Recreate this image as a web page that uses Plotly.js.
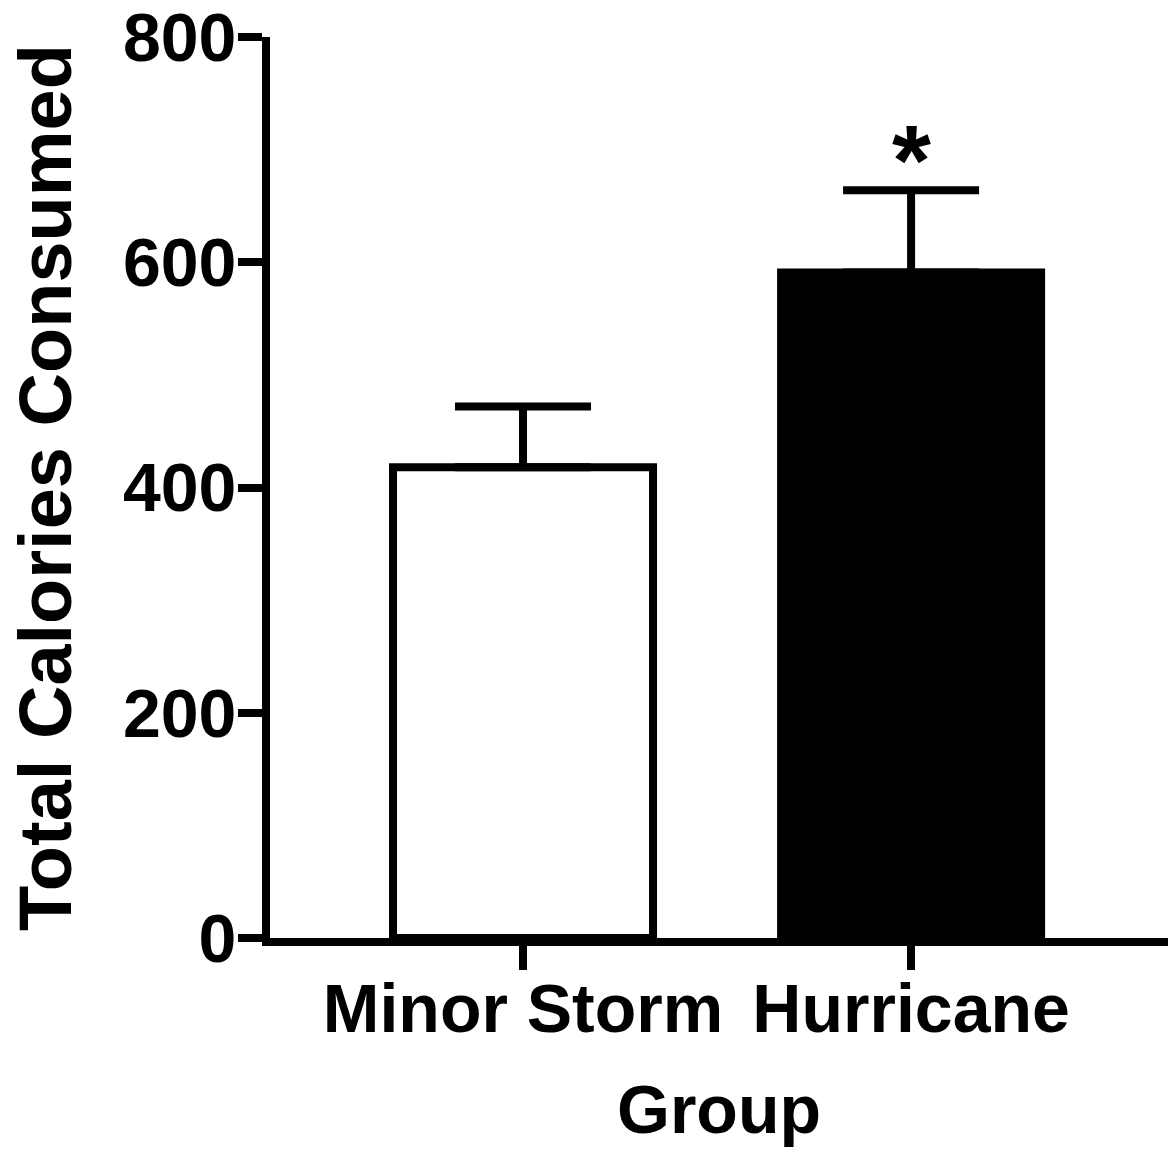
<!DOCTYPE html>
<html>
<head>
<meta charset="utf-8">
<script src="https://cdn.plot.ly/plotly-3.0.1.min.js"></script>
<style>html,body{margin:0;padding:0;background:#fff;}#chart{width:1173px;height:1161px;}</style>
</head>
<body>
<div id="chart"></div>
<script>
const categories = ["Minor Storm", "Hurricane"];
const meanCalories = [418, 591];
const semCalories = [54, 73];
const barFills = ["#ffffff", "#000000"];
const yTickValues = [0, 200, 400, 600, 800];
const yTickLabels = ["0", "200", "400", "600", "800"];
const significance = ["", "*"];

const FONT = "Liberation Sans, Arial, Helvetica, sans-serif";

const trace = {
  type: "bar",
  x: categories,
  y: meanCalories,
  width: 0.67,
  marker: { color: barFills, line: { color: "#000", width: 8 } },
  error_y: {
    type: "data",
    symmetric: false,
    array: semCalories,
    arrayminus: semCalories.map(() => 0),
    color: "#000",
    thickness: 8,
    width: 68
  },
  hoverinfo: "none"
};

const annotations = categories.map((c, i) => ({
  x: c,
  y: meanCalories[i] + semCalories[i],
  yshift: -28,
  text: significance[i],
  showarrow: false,
  xanchor: "center",
  yanchor: "bottom",
  font: { family: FONT, size: 100, color: "#000", weight: "bold" }
})).filter(a => a.text !== "");

const layout = {
  width: 1173,
  height: 1161,
  margin: { l: 270, r: 5, t: 37, b: 223 },
  paper_bgcolor: "#fff",
  plot_bgcolor: "#fff",
  showlegend: false,
  font: { family: FONT, color: "#000", weight: "bold" },
  xaxis: {
    type: "category",
    range: [-0.652, 1.662],
    showline: true,
    linecolor: "#000",
    linewidth: 8,
    ticks: "outside",
    ticklen: 24,
    tickwidth: 8,
    tickcolor: "#000",
    showgrid: false,
    zeroline: false,
    ticklabelstandoff: -20,
    tickfont: { family: FONT, size: 68, color: "#000", weight: "bold" },
    title: { text: "Group", font: { family: FONT, size: 68, color: "#000", weight: "bold" }, standoff: 44 },
    fixedrange: true
  },
  yaxis: {
    range: [0, 800],
    tickvals: yTickValues,
    ticktext: yTickLabels,
    showline: true,
    linecolor: "#000",
    linewidth: 8,
    ticks: "outside",
    ticklen: 24,
    tickwidth: 8,
    tickcolor: "#000",
    showgrid: false,
    zeroline: false,
    ticklabeloverflow: "allow",
    ticklabelstandoff: -12,
    tickfont: { family: FONT, size: 68, color: "#000", weight: "bold" },
    title: { text: "Total Calories Consumed", font: { family: FONT, size: 74, color: "#000", weight: "bold" }, standoff: 30 },
    fixedrange: true
  },
  annotations: annotations
};

Plotly.newPlot("chart", [trace], layout, { staticPlot: true, displayModeBar: false });
</script>
</body>
</html>
